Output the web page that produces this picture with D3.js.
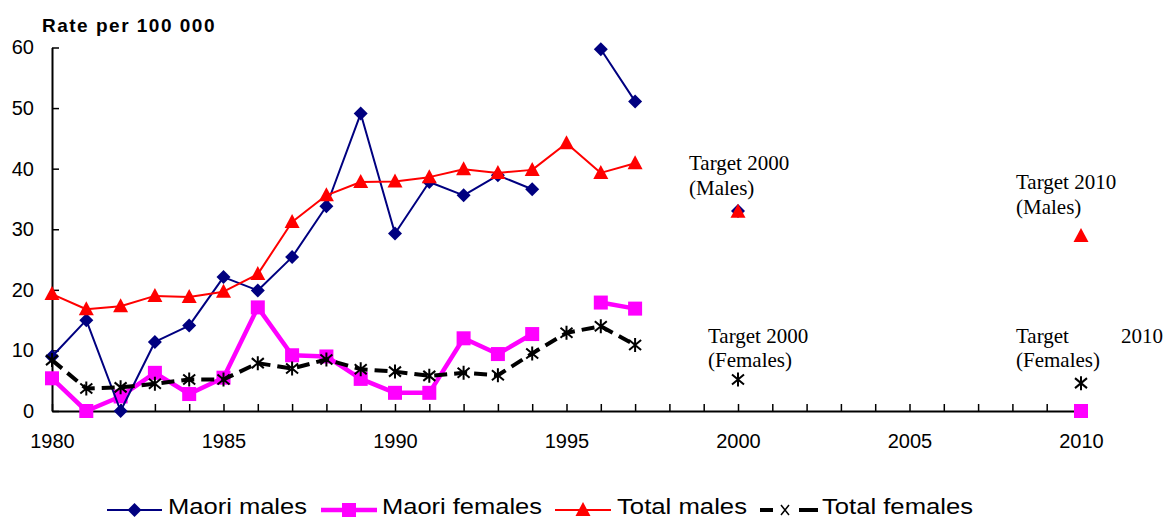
<!DOCTYPE html>
<html>
<head>
<meta charset="utf-8">
<script src="https://cdn.jsdelivr.net/npm/d3@7"></script>
<style>
  body { margin: 0; background: #fff; }
  svg { display: block; }
</style>
</head>
<body>
<svg id="chart" width="1165" height="519"></svg>
<script>
// yearly data, null = no value that year
var years = [1980, 1981, 1982, 1983, 1984, 1985, 1986, 1987, 1988, 1989,
             1990, 1991, 1992, 1993, 1994, 1995, 1996, 1997];
var maoriMales   = [9, 15, 0, 11.4, 14.1, 22.1, 19.9, 25.4, 33.8, 49.1,
                    29.3, 37.8, 35.6, 38.9, 36.6, null, 59.7, 51.1];
var maoriFemales = [5.4, 0, 2.4, 6.3, 2.8, 5.5, 17.1, 9.2, 9.0, 5.3,
                    3.0, 3.0, 12.0, 9.4, 12.7, null, 17.9, 16.9];
var totalMales   = [19.3, 16.8, 17.3, 19.0, 18.8, 19.7, 22.6, 31.2, 35.6, 37.8,
                    37.9, 38.6, 39.9, 39.3, 39.8, 44.2, 39.3, 40.9];
var totalFemales = [8.4, 3.7, 3.9, 4.5, 5.2, 5.2, 7.9, 7.0, 8.5, 6.9,
                    6.5, 5.8, 6.3, 5.9, 9.5, 12.9, 14.0, 10.9];

// target points
var targetYears        = [2000, 2010];
var targetMaoriMales   = [33, null];
var targetMaoriFemales = [null, 0];
var targetTotalMales   = [32.9, 28.9];
var targetTotalFemales = [5.2, 4.6];

var yTicks = [0, 10, 20, 30, 40, 50, 60];
var xLabelYears = [1980, 1985, 1990, 1995, 2000, 2005, 2010];

var svg = d3.select("#chart");

var x = d3.scaleLinear().domain([1980, 2010]).range([52, 1081]);
var y = d3.scaleLinear().domain([0, 60]).range([411, 47.5]);

// axes
var xAxis = d3.axisBottom(x)
    .tickValues(d3.range(1980, 2011))
    .tickSizeInner(-7)
    .tickSizeOuter(0)
    .tickPadding(23)
    .tickFormat(function(d) { return xLabelYears.indexOf(d) >= 0 ? d : ""; });

var yAxis = d3.axisLeft(y)
    .tickValues(yTicks)
    .tickSizeInner(-7)
    .tickSizeOuter(0)
    .tickPadding(18);

var gx = svg.append("g")
    .attr("transform", "translate(0," + y(0) + ")")
    .call(xAxis);
var gy = svg.append("g")
    .attr("transform", "translate(" + x(1980) + ",0)")
    .call(yAxis);

[gx, gy].forEach(function(g) {
  g.select(".domain").attr("stroke", "#000").attr("stroke-width", 2);
  g.selectAll(".tick line").attr("stroke", "#000").attr("stroke-width", 1.5);
  g.selectAll(".tick text")
    .attr("fill", "#000")
    .style("font-family", "'Liberation Sans', Arial, sans-serif")
    .style("font-size", "20px");
});

svg.append("text")
    .attr("x", 42)
    .attr("y", 32)
    .style("font-family", "'Liberation Sans', Arial, sans-serif")
    .style("font-size", "19px")
    .style("font-weight", "bold")
    .style("letter-spacing", "1.5px")
    .text("Rate per 100 000");

// marker shapes
function drawMarker(g, kind, cx, cy) {
  if (kind === "diamond") {
    g.append("path")
      .attr("d", "M" + cx + "," + (cy - 7) + "L" + (cx + 7) + "," + cy +
                 "L" + cx + "," + (cy + 7) + "L" + (cx - 7) + "," + cy + "Z")
      .attr("fill", "#000080");
  } else if (kind === "square") {
    g.append("rect")
      .attr("x", cx - 7).attr("y", cy - 7)
      .attr("width", 14).attr("height", 14)
      .attr("fill", "#ff00ff");
  } else if (kind === "triangle") {
    g.append("path")
      .attr("d", "M" + cx + "," + (cy - 8) + "L" + (cx + 7.5) + "," + (cy + 6) +
                 "L" + (cx - 7.5) + "," + (cy + 6) + "Z")
      .attr("fill", "#ff0000");
  } else if (kind === "star") {
    g.append("path")
      .attr("d", "M" + cx + "," + (cy - 7) + "L" + cx + "," + (cy + 7) +
                 "M" + (cx - 6) + "," + (cy - 5) + "L" + (cx + 6) + "," + (cy + 5) +
                 "M" + (cx - 6) + "," + (cy + 5) + "L" + (cx + 6) + "," + (cy - 5))
      .attr("stroke", "#000").attr("stroke-width", 2).attr("fill", "none");
  }
}

var series = [
  { name: "Maori females", values: maoriFemales, targets: targetMaoriFemales,
    color: "#ff00ff", width: 4.5, dash: null, marker: "square" },
  { name: "Maori males", values: maoriMales, targets: targetMaoriMales,
    color: "#000080", width: 2, dash: null, marker: "diamond" },
  { name: "Total males", values: totalMales, targets: targetTotalMales,
    color: "#ff0000", width: 2, dash: null, marker: "triangle" },
  { name: "Total females", values: totalFemales, targets: targetTotalFemales,
    color: "#000", width: 4, dash: "13,7", marker: "star" }
];

var line = d3.line()
    .defined(function(d) { return d[1] !== null; })
    .x(function(d) { return x(d[0]); })
    .y(function(d) { return y(d[1]); });

series.forEach(function(s) {
  var pts = years.map(function(yr, i) { return [yr, s.values[i]]; });
  var g = svg.append("g");
  g.append("path")
    .attr("d", line(pts))
    .attr("fill", "none")
    .attr("stroke", s.color)
    .attr("stroke-width", s.width)
    .attr("stroke-dasharray", s.dash)
    .attr("stroke-linejoin", "round");
  pts.concat(targetYears.map(function(yr, i) { return [yr, s.targets[i]]; }))
    .filter(function(d) { return d[1] !== null; })
    .forEach(function(d) { drawMarker(g, s.marker, x(d[0]), y(d[1])); });
});

// target annotations
var notes = [
  { text: "Target 2000", x: 689, y: 170 },
  { text: "(Males)", x: 689, y: 195 },
  { text: "Target 2010", x: 1016, y: 189 },
  { text: "(Males)", x: 1016, y: 214 },
  { text: "Target 2000", x: 708, y: 343 },
  { text: "(Females)", x: 708, y: 367 },
  { text: "Target", x: 1016, y: 343 },
  { text: "2010", x: 1121, y: 343 },
  { text: "(Females)", x: 1016, y: 367 }
];
svg.append("g").selectAll("text")
  .data(notes)
  .enter().append("text")
  .attr("x", function(d) { return d.x; })
  .attr("y", function(d) { return d.y; })
  .style("font-family", "'Liberation Serif', 'Times New Roman', serif")
  .style("font-size", "21px")
  .text(function(d) { return d.text; });

// legend
var legendPos = [
  { x0: 107, x1: 162, tx: 168, w: 139 },
  { x0: 321, x1: 377, tx: 382, w: 160 },
  { x0: 555, x1: 611, tx: 617, w: 130 },
  { x0: 760, x1: 818, tx: 822, w: 151 }
];
var legendOrder = [1, 0, 2, 3];
var lg = svg.append("g");
legendOrder.forEach(function(si, i) {
  var s = series[si], p = legendPos[i];
  var ly = 510;
  if (s.marker === "star") {
    lg.append("line")
      .attr("x1", p.x0).attr("x2", p.x0 + 13)
      .attr("y1", ly).attr("y2", ly)
      .attr("stroke", "#000").attr("stroke-width", 4);
    lg.append("line")
      .attr("x1", p.x1 - 19).attr("x2", p.x1)
      .attr("y1", ly).attr("y2", ly)
      .attr("stroke", "#000").attr("stroke-width", 4);
    var cx = p.x0 + 25;
    lg.append("path")
      .attr("d", "M" + (cx - 4) + "," + (ly - 5) + "L" + (cx + 4) + "," + (ly + 5) +
                 "M" + (cx - 4) + "," + (ly + 5) + "L" + (cx + 4) + "," + (ly - 5))
      .attr("stroke", "#000").attr("stroke-width", 1.5);
  } else {
    lg.append("line")
      .attr("x1", p.x0).attr("x2", p.x1)
      .attr("y1", ly).attr("y2", ly)
      .attr("stroke", s.color)
      .attr("stroke-width", s.width);
    drawMarker(lg.append("g"), s.marker, (p.x0 + p.x1) / 2, ly);
  }
  lg.append("text")
    .attr("x", p.tx)
    .attr("y", 514)
    .attr("textLength", p.w)
    .attr("lengthAdjust", "spacingAndGlyphs")
    .style("font-family", "'Liberation Sans', Arial, sans-serif")
    .style("font-size", "22px")
    .text(s.name);
});
</script>
</body>
</html>
